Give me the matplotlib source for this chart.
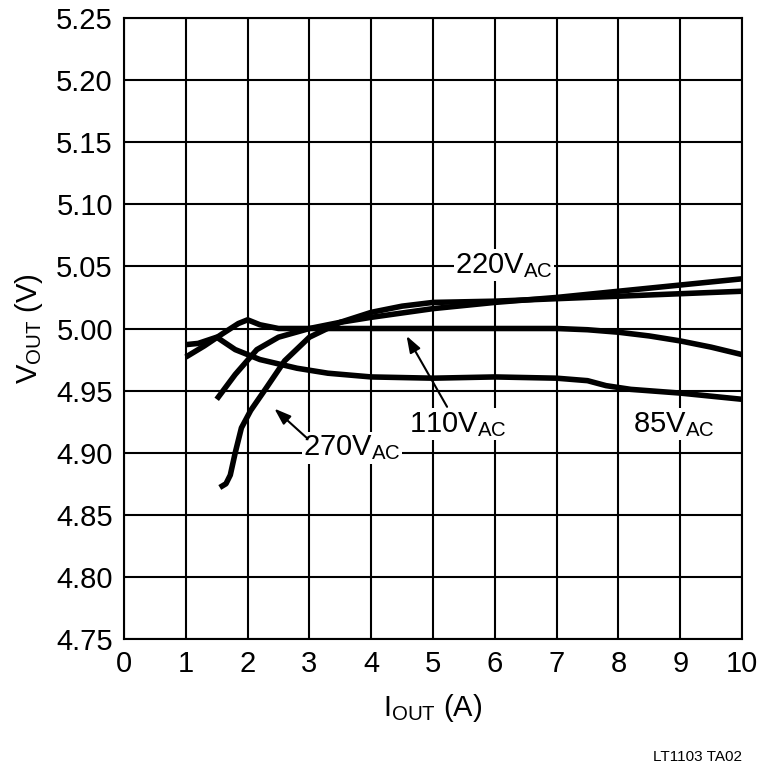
import matplotlib.pyplot as plt

# curve data
x_110 = [1.0, 1.3, 1.6, 1.85, 2.0, 2.2, 2.5, 3.0, 4.0, 5.0, 6.0, 7.0, 7.5, 8.0, 8.5, 9.0, 9.5, 10.0]
v_110 = [4.977, 4.986, 4.996, 5.004, 5.007, 5.003, 5.000, 5.000, 5.000, 5.000, 5.000, 5.000, 4.999, 4.997, 4.994, 4.990, 4.985, 4.979]

x_85 = [1.0, 1.2, 1.5, 1.8, 2.2, 2.8, 3.3, 4.0, 5.0, 6.0, 7.0, 7.5, 7.8, 8.2, 9.0, 10.0]
v_85 = [4.987, 4.988, 4.993, 4.983, 4.975, 4.968, 4.964, 4.961, 4.960, 4.961, 4.960, 4.958, 4.954, 4.951, 4.948, 4.943]

x_220 = [1.5, 1.8, 2.15, 2.5, 3.0, 3.5, 4.0, 5.0, 6.0, 7.0, 8.0, 9.0, 10.0]
v_220 = [4.943, 4.963, 4.983, 4.993, 5.000, 5.005, 5.009, 5.016, 5.021, 5.025, 5.030, 5.035, 5.040]

x_270 = [1.55, 1.65, 1.72, 1.8, 1.9, 2.05, 2.3, 2.6, 3.0, 3.5, 4.0, 4.5, 5.0, 6.0, 7.0, 8.0, 9.0, 10.0]
v_270 = [4.872, 4.875, 4.882, 4.900, 4.920, 4.934, 4.952, 4.974, 4.993, 5.005, 5.013, 5.018, 5.021, 5.022, 5.024, 5.026, 5.028, 5.030]

xticks = list(range(0, 11))
yticks = [4.75 + 0.05 * i for i in range(11)]

plt.rcParams['font.family'] = ['Liberation Sans Narrow', 'Liberation Sans', 'DejaVu Sans']

fig = plt.figure(figsize=(7.6, 7.69), dpi=100)
ax = fig.add_axes([124 / 760, 1 - 639 / 769, 618 / 760, 621 / 769])

for xs, vs in [(x_110, v_110), (x_85, v_85), (x_220, v_220), (x_270, v_270)]:
    ax.plot(xs, vs, color='black', lw=4, solid_capstyle='butt', solid_joinstyle='round', zorder=3)

ax.set_xlim(0, 10)
ax.set_ylim(4.75, 5.25)
ax.set_xticks(xticks)
ax.set_yticks(yticks)
ax.set_yticklabels([f"{v:.2f}" for v in yticks])
ax.grid(True, color='black', lw=1.5)
for s in ax.spines.values():
    s.set_linewidth(1.5)
ax.tick_params(length=0, labelsize=21, pad=8)
ax.set_xlabel(r"I$_{\mathregular{OUT}}$ (A)", fontsize=21, labelpad=10)
ax.set_ylabel(r"V$_{\mathregular{OUT}}$ (V)", fontsize=21, labelpad=8)

bbox = dict(facecolor='white', edgecolor='none', pad=1)
ax.text(6.15, 5.051, r"220V$_{\mathregular{AC}}$", fontsize=21, ha='center', va='center', bbox=bbox, zorder=4)
ax.text(2.9, 4.904, r"270V$_{\mathregular{AC}}$", fontsize=21, ha='left', va='center', bbox=bbox, zorder=4)
ax.text(5.4, 4.923, r"110V$_{\mathregular{AC}}$", fontsize=21, ha='center', va='center', bbox=bbox, zorder=4)
ax.text(8.9, 4.923, r"85V$_{\mathregular{AC}}$", fontsize=21, ha='center', va='center', bbox=bbox, zorder=4)

arrow = dict(arrowstyle='-|>,head_length=1.0,head_width=0.35', color='black', lw=1.5)
ax.annotate("", xy=(2.4, 4.937), xytext=(3.0, 4.91), arrowprops=arrow, zorder=4)
ax.annotate("", xy=(4.55, 4.996), xytext=(5.25, 4.935), arrowprops=arrow, zorder=4)

fig.text(742 / 760, 1 - 757 / 769, "LT1103 TA02", fontsize=11, ha='right', va='center')

fig.savefig("out.png", dpi=100)
